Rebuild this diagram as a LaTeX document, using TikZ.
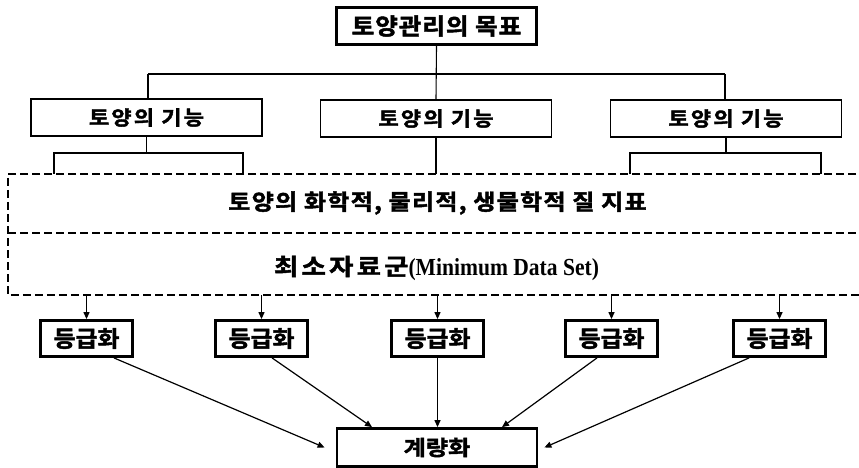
\documentclass[tikz,border=0pt]{standalone}
\usepackage{fontspec}
\newfontfamily\kr{Noto Sans CJK KR}[BoldFont={* Bold}, BoldFeatures={FakeBold=2}]
\newfontfamily\tms{Liberation Serif}[BoldFeatures={FakeStretch=0.88}]
% size, letter spacing, stretch
\newcommand\krf[3]{\kr\bfseries\fontsize{#1}{#1}\selectfont\addfontfeatures{LetterSpace=#2,FakeStretch=#3}}
\usetikzlibrary{arrows.meta,calc}
\begin{document}
\begin{tikzpicture}[x=1pt,y=-1pt,
  thinbox/.style={draw, line width=1.3pt, minimum width=231pt, minimum height=37pt, inner sep=0pt, font=\krf{20}{11}{1.1}},
  thickbox/.style={draw, line width=2.8pt, inner sep=0pt, font=\krf{23}{4}{1.07}},
  gradebox/.style={thickbox, minimum width=92pt, minimum height=36pt, font=\krf{22.5}{0}{1.06}},
  link/.style={line width=1.1pt},
  dline/.style={line width=1.8pt, dash pattern=on 8pt off 4pt},
  arr/.style={line width=1.2pt, -{Triangle[length=7pt,width=6pt]}},
  lbl/.style={inner sep=0pt}]
\useasboundingbox (0,0) rectangle (859,468);
\clip (0,0) rectangle (859,468);
% top
\node[thickbox, minimum width=200pt, minimum height=37pt] (goal) at (436.5,26) {토양관리의 목표};
% function boxes
\node[thinbox] (f1) at (146.5,117.5) {토양의 기능};
\node[thinbox] (f2) at (436,118.5) {토양의 기능};
\node[thinbox] (f3) at (726,118.5) {토양의 기능};
\coordinate (hl) at (148,74);
\coordinate (hr) at (725,74);
\draw[link] (goal.south) -- (f2.north);
\draw[link] (hl) -- (hr);
\draw[link] (hl) -- (hl |- f1.north);
\draw[link] (hr) -- (hr |- f3.north);
% dashed box
\coordinate (dtl) at (8,174);
\coordinate (dml) at (8,233);
\coordinate (dbl) at (8,295);
\coordinate (dtr) at (880,174);
\coordinate (dmr) at (880,233);
\coordinate (dbr) at (880,295);
\draw[dline] (dtr) -- (dtl) -- (dbl) -- (dbr);
\draw[dline] (dml) -- (dmr);
\node[lbl, font=\krf{22}{6}{1.09}] (q) at (437.5,203) {토양의 화학적, 물리적, 생물학적 질 지표};
\node[lbl] (mds) at (436.5,268) {{\krf{23}{14}{1.15}최소자료군}{\tms\bfseries\fontsize{24.5}{25}\selectfont(Minimum Data Set)}};
% subtree connectors
\coordinate (l1) at (54,153);
\coordinate (l2) at (243,153);
\coordinate (r1) at (630,153);
\coordinate (r2) at (821,153);
\draw[link] (f1.south) -- (f1.south |- l1);
\draw[link] (l1 |- dtl) -- (l1) -- (l2) -- (l2 |- dtl);
\draw[link] (f2.south) -- (f2.south |- dtl);
\draw[link] (f3.south) -- (f3.south |- r1);
\draw[link] (r1 |- dtl) -- (r1) -- (r2) -- (r2 |- dtl);
% grade boxes
\node[gradebox] (g1) at (86.5,338.5) {등급화};
\node[gradebox] (g2) at (261.5,338.5) {등급화};
\node[gradebox] (g3) at (437.5,338.5) {등급화};
\node[gradebox] (g4) at (611.5,338.5) {등급화};
\node[gradebox] (g5) at (779.5,338.5) {등급화};
\foreach \g in {g1,g2,g3,g4,g5}{
  \draw[arr] (\g.north |- dbl) -- (\g.north);
}
% result
\node[thickbox, minimum width=200pt, minimum height=38pt, font=\krf{21}{0}{1.15}] (res) at (437,447.5) {계량화};
\draw[arr] ($(g1.south east)+(-20,0)$) -- ($(res.west)+(-11,0)$);
\draw[arr] ($(g2.south)+(10.5,0)$) -- ($(res.north)+(-65,0)$);
\draw[arr] (g3.south) -- (g3.south |- res.north);
\draw[arr] ($(g4.south)+(-14.5,0)$) -- ($(res.north)+(65,0)$);
\draw[arr] ($(g5.south west)+(17,0)$) -- ($(res.east)+(6,0)$);
\end{tikzpicture}
\end{document}
